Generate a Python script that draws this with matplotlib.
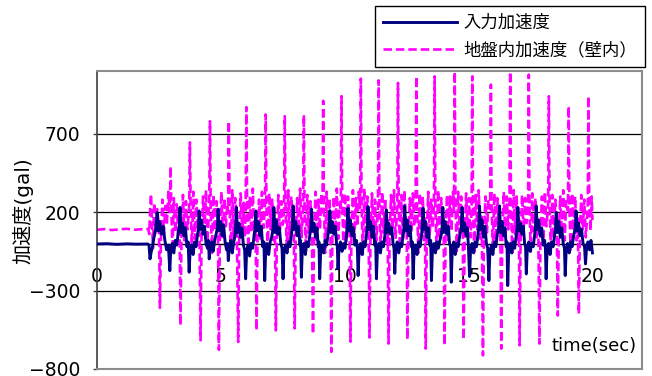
import matplotlib.pyplot as plt
from matplotlib.lines import Line2D

plt.rcParams["font.family"] = ["DejaVu Sans", "Noto Sans CJK JP"]

# input acceleration (gal), one line per cycle of shaking
t_input = [
    0.00, 0.40, 0.80, 1.20, 1.60, 2.05, 2.10, 2.14, 2.18, 2.24, 2.30, 2.36,
    2.43, 2.47, 2.53, 2.60, 2.67, 2.74, 2.81, 2.88, 2.94, 2.98, 3.04, 3.10, 3.16, 3.22, 3.28, 3.32,
    3.35, 3.39, 3.45, 3.51, 3.57, 3.63, 3.68, 3.72, 3.76, 3.82, 3.88, 3.94, 4.00, 4.05, 4.09,
    4.12, 4.16, 4.22, 4.28, 4.34, 4.40, 4.46, 4.50, 4.53, 4.57, 4.63, 4.69, 4.75, 4.81, 4.86,
    4.89, 4.93, 4.99, 5.05, 5.11, 5.17, 5.23, 5.27, 5.30, 5.34, 5.40, 5.46, 5.52, 5.57, 5.60,
    5.63, 5.67, 5.73, 5.79, 5.85, 5.91, 5.96, 6.00, 6.04, 6.10, 6.16, 6.22, 6.28, 6.34, 6.38,
    6.41, 6.45, 6.51, 6.57, 6.63, 6.69, 6.74, 6.77, 6.81, 6.87, 6.93, 6.99, 7.05, 7.11,
    7.14, 7.18, 7.24, 7.30, 7.36, 7.42, 7.47, 7.51, 7.55, 7.61, 7.67, 7.73, 7.79, 7.85, 7.89,
    7.92, 7.96, 8.02, 8.08, 8.14, 8.19, 8.22, 8.25, 8.29, 8.35, 8.41, 8.47, 8.53, 8.59, 8.63,
    8.66, 8.70, 8.76, 8.82, 8.88, 8.93, 8.96, 8.99, 9.03, 9.09, 9.15, 9.21, 9.27, 9.33, 9.37,
    9.40, 9.44, 9.50, 9.56, 9.62, 9.67, 9.70, 9.73, 9.77, 9.83, 9.89, 9.95, 10.01, 10.07, 10.10,
    10.13, 10.17, 10.23, 10.29, 10.35, 10.41, 10.47, 10.51, 10.54, 10.58, 10.64, 10.70, 10.76, 10.82, 10.88, 10.91,
    10.94, 10.98, 11.04, 11.10, 11.16, 11.21, 11.25, 11.28, 11.32, 11.38, 11.44, 11.50, 11.56, 11.62, 11.65,
    11.68, 11.72, 11.78, 11.84, 11.90, 11.95, 11.99, 12.02, 12.06, 12.12, 12.18, 12.24, 12.30, 12.36, 12.39,
    12.42, 12.46, 12.52, 12.58, 12.64, 12.69, 12.73, 12.76, 12.80, 12.86, 12.92, 12.98, 13.04, 13.10, 13.13,
    13.16, 13.20, 13.26, 13.32, 13.38, 13.43, 13.47, 13.50, 13.54, 13.60, 13.66, 13.72, 13.78, 13.84, 13.90, 13.93,
    13.96, 14.00, 14.06, 14.12, 14.18, 14.23, 14.27, 14.30, 14.34, 14.40, 14.46, 14.52, 14.58, 14.64, 14.70,
    14.74, 14.78, 14.84, 14.90, 14.95, 14.99, 15.04, 15.08, 15.14, 15.20, 15.26, 15.32, 15.38, 15.41,
    15.44, 15.48, 15.54, 15.60, 15.66, 15.72, 15.77, 15.82, 15.86, 15.92, 15.98, 16.04, 16.10, 16.16, 16.22,
    16.25, 16.29, 16.35, 16.41, 16.47, 16.52, 16.55, 16.58, 16.62, 16.68, 16.74, 16.80, 16.86, 16.92, 16.96,
    16.99, 17.03, 17.09, 17.15, 17.21, 17.26, 17.30, 17.33, 17.37, 17.43, 17.49, 17.55, 17.61, 17.67, 17.70,
    17.73, 17.77, 17.83, 17.89, 17.95, 18.01, 18.07, 18.10, 18.13, 18.17, 18.23, 18.29, 18.35, 18.41, 18.47, 18.51,
    18.54, 18.58, 18.64, 18.70, 18.76, 18.82, 18.87, 18.90, 18.94, 19.00, 19.06, 19.12, 19.18, 19.24, 19.31,
    19.34, 19.38, 19.44, 19.50, 19.56, 19.62, 19.68, 19.72, 19.76, 19.82, 19.88, 19.94, 20.00,
]
acc_input = [
    -3, -1, -5, -2, -4, -3, -10, -98, -60, -20, 40, 80,
    198, 80, 140, 60, 110, 20, -40, -10, -173, -30, 0, -60, 20, -10, 70, 110,
    230, 70, 130, 50, 100, -20, 10, -183, -40, -10, -70, 10, -20, 50, 90,
    208, 90, 150, 60, 110, 0, -30, 20, -98, -20, 10, -50, 20, 60, 100,
    219, 80, 140, 50, 120, 10, -40, 0, -109, -30, 20, -60, 10, 50, 110,
    230, 70, 130, 40, 100, -10, -40, -225, -50, -10, -80, 0, -30, 50, 100,
    208, 80, 140, 50, 110, -20, 10, -236, -40, 0, -70, 10, 40, 100,
    230, 70, 150, 60, 100, 0, -30, -225, -40, -10, -60, 10, -20, 60, 110,
    240, 90, 140, 50, 110, -10, 20, -215, -30, 0, -70, 10, -20, 50, 100,
    219, 80, 130, 40, 100, -20, 10, -225, -50, -10, -60, 20, -10, 60, 110,
    210, 70, 140, 60, 110, 0, -20, -162, -30, 10, -50, 0, -30, 50, 100,
    225, 80, 150, 50, 100, -10, 20, -30, -204, -40, 0, -70, 10, -20, 60, 110,
    235, 90, 140, 40, 110, -10, 10, -225, -40, 0, -60, 10, -20, 50, 100,
    215, 70, 130, 60, 100, 0, -30, -190, -30, 10, -60, 0, -20, 60, 100,
    240, 80, 150, 50, 110, -20, 10, -225, -50, -10, -70, 10, -20, 50, 110,
    225, 90, 140, 40, 100, -10, 20, -236, -40, 0, -60, 10, -30, 20, 60, 100,
    230, 70, 140, 60, 110, 0, -20, -247, -40, 10, -70, 0, -20, 50, 100,
    230, 80, 130, 50, 100, -10, -210, -40, 0, -60, 10, -20, 60, 110,
    240, 90, 150, 40, 110, 0, -30, -236, -50, -10, -70, 10, -20, 60, 110,
    240, 70, 140, 50, 100, -20, 10, -268, -40, 0, -60, 10, -30, 50, 100,
    230, 80, 130, 60, 110, 0, -20, -194, -30, 10, -50, 0, -20, 60, 110,
    240, 90, 150, 50, 100, -10, 20, -30, -225, -40, 0, -70, 10, -20, 50, 100,
    198, 70, 140, 40, 100, 0, -30, -204, -40, 0, -60, 10, -20, 50, 100,
    208, 80, 130, 50, 90, 0, -20, -130, -30, 10, -40, 20, -60,
]

# acceleration inside the ground (wall), one line per cycle
t_wall = [
    0.00, 0.30, 0.60, 0.90, 1.20, 1.50, 1.80, 2.07, 2.11,
    2.15, 2.18, 2.21, 2.26, 2.31, 2.37, 2.43, 2.50, 2.54, 2.58, 2.64, 2.70, 2.76, 2.82, 2.88, 2.94,
    2.97, 3.00, 3.05, 3.10, 3.16, 3.22, 3.28, 3.33, 3.37, 3.41, 3.47, 3.53, 3.59, 3.65, 3.72,
    3.75, 3.78, 3.83, 3.89, 3.95, 4.01, 4.07, 4.13, 4.18, 4.22, 4.28, 4.34, 4.40, 4.46, 4.53,
    4.56, 4.59, 4.64, 4.70, 4.76, 4.82, 4.88, 4.92, 4.96, 5.02, 5.08, 5.14, 5.20, 5.26, 5.29,
    5.32, 5.35, 5.40, 5.46, 5.52, 5.58, 5.64, 5.70, 5.74, 5.80, 5.86, 5.92, 5.97, 6.00,
    6.03, 6.06, 6.11, 6.17, 6.23, 6.29, 6.35, 6.40, 6.44, 6.48, 6.54, 6.60, 6.66, 6.72, 6.78,
    6.81, 6.84, 6.89, 6.95, 7.01, 7.07, 7.13, 7.18, 7.22, 7.26, 7.32, 7.38, 7.44, 7.50, 7.55,
    7.58, 7.61, 7.66, 7.72, 7.78, 7.84, 7.90, 7.94, 7.98, 8.02, 8.08, 8.14, 8.20, 8.26, 8.32,
    8.35, 8.38, 8.43, 8.49, 8.55, 8.61, 8.67, 8.72, 8.76, 8.82, 8.88, 8.94, 9.00, 9.06, 9.10,
    9.13, 9.16, 9.21, 9.27, 9.33, 9.38, 9.42, 9.46, 9.50, 9.56, 9.62, 9.68, 9.74, 9.80, 9.84,
    9.87, 9.90, 9.95, 10.01, 10.07, 10.13, 10.19, 10.23, 10.27, 10.33, 10.39, 10.45, 10.51, 10.57, 10.62,
    10.65, 10.68, 10.73, 10.79, 10.85, 10.91, 10.96, 11.00, 11.04, 11.10, 11.16, 11.22, 11.28, 11.34,
    11.37, 11.40, 11.45, 11.51, 11.57, 11.63, 11.69, 11.73, 11.77, 11.81, 11.87, 11.93, 11.99, 12.05, 12.12,
    12.15, 12.18, 12.23, 12.29, 12.35, 12.41, 12.47, 12.50, 12.53, 12.57, 12.63, 12.69, 12.75, 12.81, 12.86,
    12.89, 12.92, 12.97, 13.03, 13.09, 13.15, 13.21, 13.24, 13.27, 13.31, 13.37, 13.43, 13.49, 13.55, 13.60,
    13.63, 13.66, 13.71, 13.77, 13.83, 13.89, 13.95, 13.99, 14.03, 14.07, 14.13, 14.19, 14.25, 14.31, 14.37, 14.41,
    14.44, 14.47, 14.52, 14.58, 14.64, 14.70, 14.76, 14.80, 14.84, 14.90, 14.96, 15.02, 15.08, 15.12,
    15.15, 15.18, 15.23, 15.29, 15.35, 15.41, 15.47, 15.53, 15.58, 15.62, 15.68, 15.74, 15.80, 15.87,
    15.90, 15.93, 15.98, 16.04, 16.10, 16.16, 16.22, 16.28, 16.32, 16.36, 16.42, 16.48, 16.54, 16.60, 16.65,
    16.68, 16.71, 16.76, 16.82, 16.88, 16.94, 17.00, 17.03, 17.06, 17.10, 17.16, 17.22, 17.28, 17.34, 17.40,
    17.43, 17.46, 17.51, 17.57, 17.63, 17.69, 17.75, 17.81, 17.86, 17.90, 17.96, 18.02, 18.08, 18.14, 18.21,
    18.24, 18.27, 18.32, 18.38, 18.44, 18.50, 18.56, 18.60, 18.64, 18.70, 18.76, 18.82, 18.88, 18.94, 19.01,
    19.04, 19.07, 19.12, 19.18, 19.24, 19.30, 19.36, 19.41, 19.45, 19.49, 19.55, 19.61, 19.67, 19.73, 19.81,
    19.84, 19.87, 19.92, 19.97, 20.00,
]
acc_wall = [
    88, 92, 86, 90, 94, 88, 91, 92, 60,
    240, 315, 180, -30, 260, 90, 220, 110, -410, 20, 280, 60, 240, 120, 330, 200,
    492, 210, -50, 290, 70, 250, 40, 160, -522, 50, 310, 20, 270, 90, 230,
    645, 240, -20, 330, 30, 280, 100, 150, -617, 40, 300, 80, 340, 10, 260,
    780, 230, -60, 310, 80, 270, 130, -678, 60, 330, 40, 290, 110, 250, 200,
    780, 260, -40, 340, 20, 290, 140, -628, 30, 320, 90, 260, 40, 230,
    870, 220, -30, 300, 70, 350, 10, 170, -554, 50, 280, 30, 330, 100, 240,
    823, 250, -70, 320, 90, 280, 20, 140, -554, 40, 310, 60, 270, 120, 210,
    812, 240, -20, 340, 20, 300, 110, 160, -541, 30, 290, 80, 350, 40, 230,
    820, 210, -50, 310, 70, 270, 130, -578, 50, 330, 20, 280, 90, 320, 200,
    910, 230, -60, 330, 60, 290, 150, -691, 40, 300, 70, 350, 30, 260, 210,
    940, 250, -30, 320, 10, 300, 140, -626, 60, 340, 30, 290, 110, 330, 220,
    1051, 260, -70, 350, 80, 300, 160, -599, 40, 320, 60, 280, 20, 240,
    1040, 230, -40, 330, 70, 290, 10, 150, -638, 50, 310, 90, 340, 30, 220,
    1024, 240, -30, 310, 20, 340, 100, 170, -612, 30, 290, 70, 320, 110, 230,
    1066, 250, -60, 320, 80, 300, 20, 160, -670, 40, 330, 50, 280, 100, 240,
    1066, 220, -40, 340, 30, 290, 120, 150, -649, 60, 310, 20, 300, 80, 330, 210,
    1095, 260, -50, 330, 70, 300, 140, -612, 30, 320, 80, 290, 40, 230,
    1066, 240, -70, 310, 90, 340, 30, 170, -713, 50, 300, 70, 270, 220,
    1013, 230, -30, 320, 20, 290, 110, 150, -670, 40, 330, 60, 300, 90, 240,
    1095, 250, -60, 340, 60, 300, 20, 160, -649, 30, 310, 80, 290, 130, 220,
    1077, 220, -50, 320, 80, 290, 40, 150, -638, 50, 300, 20, 330, 110, 240,
    939, 240, -20, 310, 30, 280, 130, -459, 40, 300, 70, 340, 20, 270, 210,
    875, 230, -40, 320, 80, 300, 20, 160, -448, 60, 310, 90, 280, 40, 230,
    939, 250, 80, 300, 150,
]

x_ticks = [0, 5, 10, 15, 20]
y_ticks = [-800, -300, 200, 700]
grid_lines = [-300, 200, 700]
labels = ["入力加速度", "地盤内加速度（壁内）"]

fig = plt.figure(figsize=(6.52, 3.76), dpi=100)
ax = fig.add_axes([97 / 652, 1 - 369 / 376, 545 / 652, 298 / 376])

for y in grid_lines:
    ax.axhline(y, color="black", lw=0.9, zorder=1)

ax.plot(t_wall, acc_wall, color="#ff00ff", lw=1.9, ls=(0, (3.2, 1.5)),
        dash_capstyle="butt", zorder=2, label=labels[1])
ax.plot(t_input, acc_input, color="#000080", lw=2.1, zorder=3, label=labels[0])

ax.set_xlim(0, 22)
ax.set_ylim(-800, 1100)
ax.set_xticks(x_ticks)
ax.set_yticks(y_ticks)

# x axis sits at zero, labels hang well below it
ax.spines["bottom"].set_position(("data", 0))
ax.spines["bottom"].set_color("black")
ax.spines["bottom"].set_linewidth(1.0)
ax.spines["bottom"].set_zorder(1.5)
ax.spines["left"].set_color("#404040")
ax.spines["left"].set_linewidth(1.2)
for side in ["top", "right"]:
    ax.spines[side].set_color("#8c8c8c")
    ax.spines[side].set_linewidth(1.5)
ax.add_line(Line2D([0, 1], [0, 0], transform=ax.transAxes, color="#8c8c8c",
                   lw=1.5, clip_on=False, zorder=4))

ax.tick_params(axis="x", length=0, pad=17, labelsize=13.5)
ax.tick_params(axis="y", length=3, width=1, color="#404040", pad=9, labelsize=13.5)

fig.text(23 / 652, 1 - 211 / 376, "加速度(gal)", rotation=90,
         ha="center", va="center", fontsize=14.5)
fig.text(637 / 652, 1 - 346 / 376, "time(sec)", ha="right", va="center", fontsize=13)

handles, names = ax.get_legend_handles_labels()
leg = fig.legend(handles[::-1], names[::-1], loc="upper right",
                 bbox_to_anchor=(645 / 652, 1 - 6 / 376),
                 fancybox=False, edgecolor="black", framealpha=1, fontsize=12.5,
                 handlelength=4.3, borderpad=0.45, labelspacing=0.55,
                 handletextpad=0.35, borderaxespad=0)
leg.get_frame().set_linewidth(1.0)

fig.savefig("out.png", dpi=100)
